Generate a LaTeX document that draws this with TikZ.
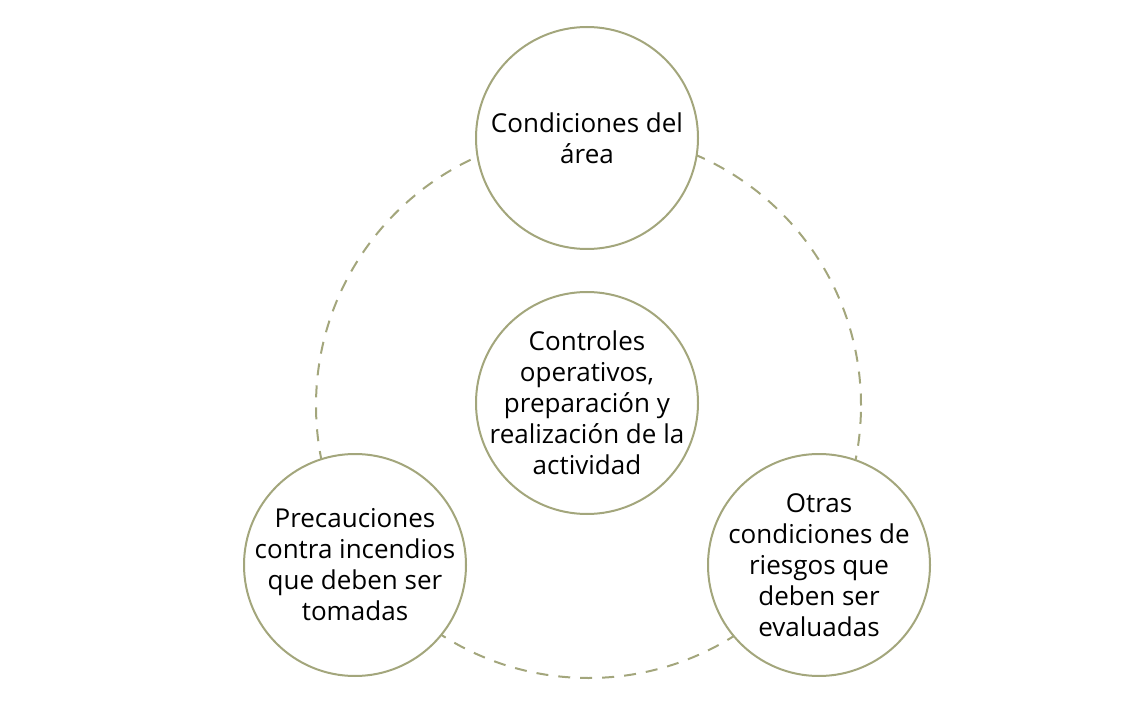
\documentclass[tikz,border=0pt]{standalone}
\usepackage{fontspec}
\setmainfont{Open Sans}
\tikzset{
    every picture/.style={
        line width=2pt
    },
    % Style for the round topic boxes
    topic circle/.style={
        circle,
        draw=ringColor,
        fill=white,
        minimum size=222pt,
        inner sep=-40pt,
        align=center,
        font=\fontsize{26}{31}\selectfont
    },
    ring line/.style={draw=ringColor, dash pattern=on 12pt off 10pt}
}
\definecolor{ringColor}{RGB}{163,166,124}

\begin{document}
\begin{tikzpicture}[x=1pt,y=1pt]

% Set the canvas size
\path[use as bounding box] (0,0) rectangle (1124,713);

% Dashed ring behind the circles
\draw[ring line] (588.5,307.5) circle (272.5);

% Draw the circles with their labels
\node[topic circle] (area) at (587,575) {Condiciones del\\área};
\node[topic circle] (controles) at (587,310) {Controles\\operativos,\\preparación y\\realización de la\\actividad};
\node[topic circle] (precauciones) at (355,148) {Precauciones\\contra incendios\\que deben ser\\tomadas};
\node[topic circle] (riesgos) at (819,148) {Otras\\condiciones de\\riesgos que\\deben ser\\evaluadas};

\end{tikzpicture}
\end{document}
